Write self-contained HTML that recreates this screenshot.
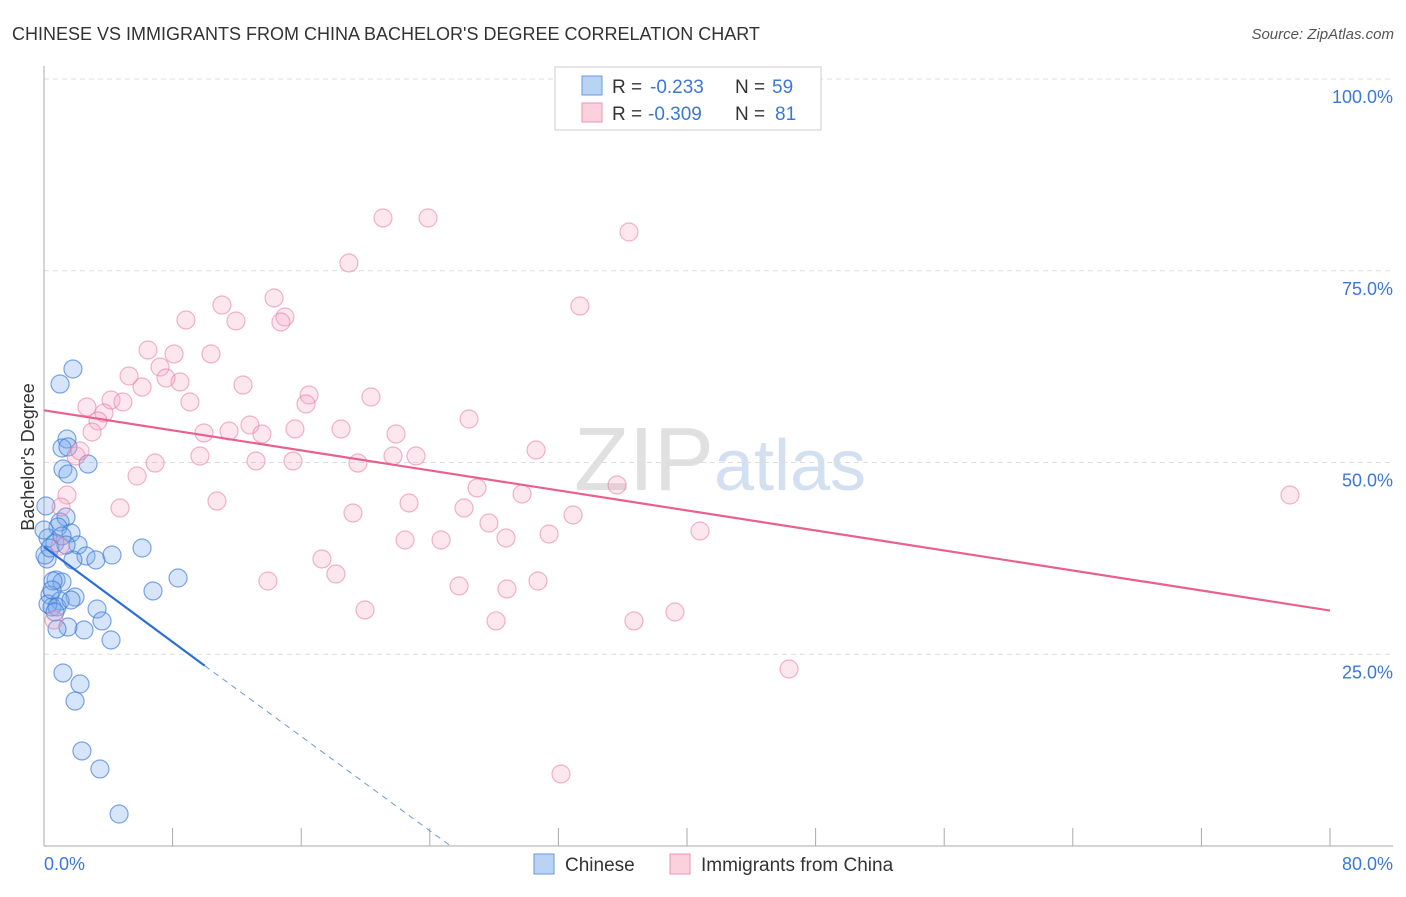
<!DOCTYPE html>
<html><head><meta charset="utf-8"><style>
body{margin:0;background:#fff;font-family:"Liberation Sans",sans-serif;}
svg text{font-family:"Liberation Sans",sans-serif;}
</style></head><body>
<svg width="1406" height="892" xmlns="http://www.w3.org/2000/svg">
<text x="12" y="40" font-size="18" fill="#333">CHINESE VS IMMIGRANTS FROM CHINA BACHELOR'S DEGREE CORRELATION CHART</text>
<text x="1394" y="39" font-size="15" fill="#555" text-anchor="end" font-style="italic">Source: ZipAtlas.com</text>
<text x="720" y="490" font-size="90" fill="#e0e0e0" text-anchor="middle" font-family="Liberation Serif">ZIP<tspan fill="#d3e0f2" font-family="Liberation Sans" font-size="72">atlas</tspan></text>
<g id="grid"></g>
<g id="axes"></g>
<g id="pts"></g>
<g id="lines"></g>
<text transform="translate(34,457) rotate(-90)" font-size="18" fill="#333" text-anchor="middle">Bachelor's Degree</text>
<text x="44" y="870" font-size="18" fill="#3a78d8">0.0%</text>
<text x="1393" y="870" font-size="18" fill="#3a78d8" text-anchor="end">80.0%</text>
<g>
<rect x="555" y="67" width="266" height="63" fill="#fff" stroke="#ccc"/>
<rect x="582" y="76" width="20" height="19" fill="#b9d3f5" stroke="#6a9ae0"/>
<rect x="582" y="103" width="20" height="19" fill="#fcd0dd" stroke="#ec94b1"/>
<text x="612" y="93" font-size="19" fill="#333">R =</text>
<text x="650" y="93" font-size="19" fill="#3a78d8">-0.233</text>
<text x="735" y="93" font-size="19" fill="#333">N =</text>
<text x="772" y="93" font-size="19" fill="#3a78d8">59</text>
<text x="612" y="120" font-size="19" fill="#333">R =</text>
<text x="648" y="120" font-size="19" fill="#3a78d8">-0.309</text>
<text x="735" y="120" font-size="19" fill="#333">N =</text>
<text x="775" y="120" font-size="19" fill="#3a78d8">81</text>
</g>
<g>
<rect x="534" y="854" width="20" height="20" fill="#b9d3f5" stroke="#6a9ae0"/>
<text x="565" y="871" font-size="19" fill="#333">Chinese</text>
<rect x="670" y="854" width="20" height="20" fill="#fcd0dd" stroke="#ec94b1"/>
<text x="701" y="871" font-size="19" fill="#333">Immigrants from China</text>
</g>
</svg>
<script>
const yTicks=[25,50,75,100];
const xTicks=[0,8,16,24,32,40,48,56,64,72,80];
const bluePx=[[73,369],[60,384],[67,439],[62,448],[68,447],[63,469],[68,474],[88,464],[46,506],[60,522],[66,517],[58,527],[71,533],[48,538],[55,543],[62,536],[47,559],[78,545],[86,556],[73,560],[96,560],[112,555],[142,548],[56,580],[62,582],[50,595],[75,597],[60,601],[52,607],[48,604],[57,607],[71,600],[97,609],[102,621],[84,630],[68,627],[57,629],[111,640],[178,578],[153,591],[63,673],[80,684],[75,701],[82,751],[100,769],[119,814],[53,581],[45,555],[50,548],[55,612],[66,545],[44,530],[52,590]];
const pinkPx=[[383,218],[428,218],[629,232],[349,263],[222,305],[274,298],[580,306],[186,320],[236,321],[285,317],[281,322],[148,350],[174,354],[211,354],[129,376],[160,367],[243,385],[142,387],[180,382],[166,378],[309,395],[371,397],[190,402],[87,407],[111,400],[123,402],[306,404],[104,413],[98,421],[469,419],[92,432],[204,433],[229,431],[250,425],[262,434],[295,429],[341,429],[396,434],[536,450],[200,456],[256,461],[293,461],[358,463],[393,456],[416,456],[76,456],[80,451],[155,463],[137,476],[477,488],[522,494],[617,485],[67,495],[217,501],[409,503],[120,508],[61,507],[353,513],[464,508],[573,515],[489,523],[700,531],[405,540],[441,540],[506,538],[549,534],[60,546],[322,559],[268,581],[336,574],[459,586],[507,589],[538,581],[365,610],[675,612],[496,621],[634,621],[54,620],[789,669],[1290,495],[561,774]];
const blueX=bluePx.map(p=>+((p[0]-44)/16.075).toFixed(2));
const blueY=bluePx.map(p=>+((846-p[1])/7.67).toFixed(2));
const pinkX=pinkPx.map(p=>+((p[0]-44)/16.075).toFixed(2));
const pinkY=pinkPx.map(p=>+((846-p[1])/7.67).toFixed(2));
const blueLine=[[0,39],[10,23.5],[25.3,0]];
const pinkLine=[[0,56.8],[80,30.7]];
const X=v=>44+v*16.075, Y=v=>846-v*7.67;
const NS="http://www.w3.org/2000/svg";
function mk(t,a,parent){const e=document.createElementNS(NS,t);for(const k in a)e.setAttribute(k,a[k]);document.getElementById(parent).appendChild(e);return e;}
yTicks.forEach(t=>{
 const l=mk('line',{x1:44,x2:1393,y1:Y(t),y2:Y(t),stroke:'#ddd','stroke-dasharray':'5,4'},'grid');
 
 
 const tx=mk('text',{x:1393,y:Y(t)+24,'font-size':18,fill:'#3a78d8','text-anchor':'end'},'grid');
 tx.textContent=t.toFixed(1)+'%';
 
 
});
const ax=mk('line',{x1:44,x2:44,y1:66,y2:846,stroke:'#aaa'},'axes');


const bx=mk('line',{x1:44,x2:1393,y1:846,y2:846,stroke:'#aaa'},'axes');


xTicks.forEach(t=>{
 const l=mk('line',{x1:X(t),x2:X(t),y1:828,y2:846,stroke:'#aaa'},'axes');
 
 
});
blueX.forEach((x,i)=>{
 const c=mk('circle',{cx:X(x),cy:Y(blueY[i]),r:9,fill:'rgba(120,170,235,0.3)',stroke:'rgba(60,120,215,0.65)','stroke-width':1.2},'pts');
 
 
});
pinkX.forEach((x,i)=>{
 const c=mk('circle',{cx:X(x),cy:Y(pinkY[i]),r:9,fill:'rgba(245,160,190,0.25)',stroke:'rgba(230,120,160,0.55)','stroke-width':1.2},'pts');
 
 
});
const pl=mk('line',{x1:X(pinkLine[0][0]),y1:Y(pinkLine[0][1]),x2:X(pinkLine[1][0]),y2:Y(pinkLine[1][1]),stroke:'#e8608f','stroke-width':2.2},'lines');


const bl=mk('line',{x1:X(blueLine[0][0]),y1:Y(blueLine[0][1]),x2:X(blueLine[1][0]),y2:Y(blueLine[1][1]),stroke:'#2a6fd6','stroke-width':2.2},'lines');


const bd=mk('line',{x1:X(blueLine[1][0]),y1:Y(blueLine[1][1]),x2:X(blueLine[2][0]),y2:Y(blueLine[2][1]),stroke:'#6a9ae0','stroke-width':1,'stroke-dasharray':'6,5'},'lines');


</script>
</body></html>
